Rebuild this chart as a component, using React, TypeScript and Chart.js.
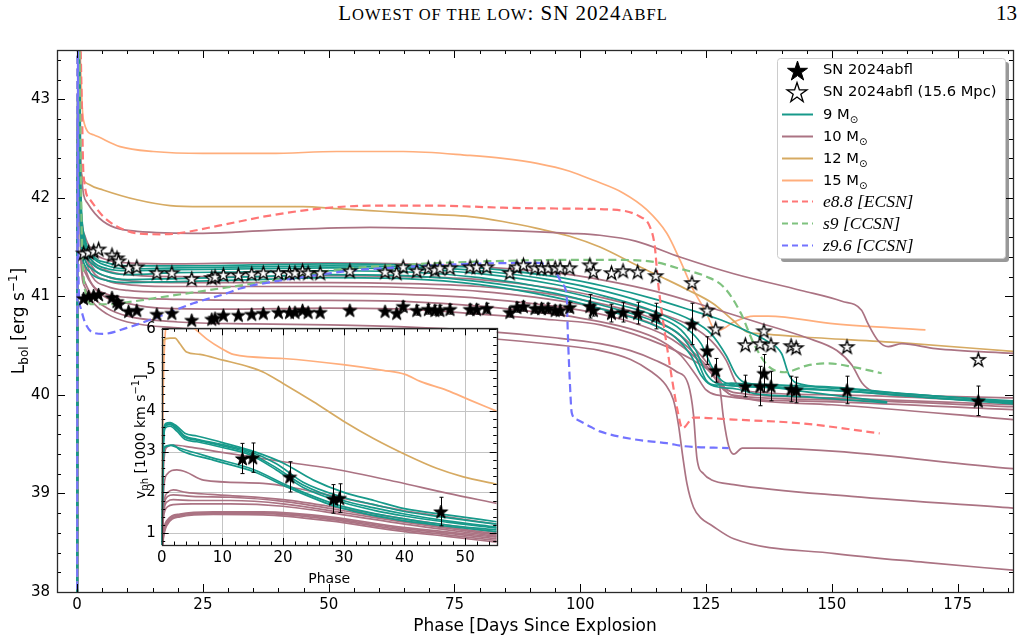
import React, { useEffect, useRef } from "react";
import { Chart, registerables } from "chart.js";
Chart.register(...registerables);

type Pt = [number, number];

// ---------------- observations ----------------
const OBS_PHASE = [1.29, 2.28, 3.28, 4.27, 6.93, 7.92, 8.24, 10.23, 11.86, 15.84, 18.82, 22.78, 26.76, 27.41, 29.06, 32.04, 34.7, 37.0, 40.0, 42.2, 43.3, 44.8, 45.9, 48.3, 54.2, 61.2, 63.5, 64.8, 67.5, 69.8, 71.1, 72.1, 74.1, 78.1, 79.4, 81.4, 86.0, 87.4, 88.7, 91.0, 92.3, 93.6, 95.0, 96.0, 97.9, 101.9, 102.6, 106.2, 108.5, 111.4, 115.0, 122.2, 125.2, 126.9, 132.8, 135.7, 136.5, 137.9, 141.9, 142.9, 153.0, 179.1];
const OBS_LOGL = [40.98, 41.0, 41.01, 41.02, 40.99, 40.95, 40.92, 40.85, 40.86, 40.82, 40.83, 40.76, 40.77, 40.78, 40.81, 40.81, 40.82, 40.83, 40.84, 40.84, 40.84, 40.86, 40.84, 40.84, 40.86, 40.85, 40.83, 40.9, 40.86, 40.87, 40.86, 40.86, 40.87, 40.87, 40.87, 40.88, 40.84, 40.89, 40.9, 40.88, 40.88, 40.88, 40.86, 40.86, 40.89, 40.9, 40.86, 40.83, 40.84, 40.83, 40.8, 40.72, 40.45, 40.25, 40.09, 40.09, 40.22, 40.09, 40.06, 40.05, 40.05, 39.94];
const OBS_LOGL_ERR = [0.02, 0.02, 0.02, 0.02, 0.02, 0.02, 0.02, 0.02, 0.02, 0.02, 0.02, 0.02, 0.02, 0.02, 0.02, 0.02, 0.02, 0.02, 0.02, 0.02, 0.02, 0.02, 0.02, 0.02, 0.02, 0.02, 0.02, 0.05, 0.05, 0.05, 0.05, 0.05, 0.05, 0.05, 0.05, 0.05, 0.05, 0.05, 0.05, 0.05, 0.05, 0.05, 0.05, 0.05, 0.05, 0.12, 0.06, 0.09, 0.1, 0.11, 0.13, 0.21, 0.14, 0.12, 0.11, 0.2, 0.19, 0.15, 0.13, 0.13, 0.14, 0.15];
const OBS_LOGL_15MPC = [41.44, 41.45, 41.46, 41.48, 41.42, 41.39, 41.36, 41.29, 41.3, 41.24, 41.24, 41.18, 41.19, 41.2, 41.22, 41.22, 41.23, 41.24, 41.24, 41.24, 41.24, 41.26, 41.24, 41.24, 41.26, 41.25, 41.24, 41.3, 41.26, 41.29, 41.27, 41.29, 41.29, 41.3, 41.3, 41.3, 41.24, 41.3, 41.32, 41.29, 41.29, 41.29, 41.29, 41.29, 41.29, 41.32, 41.25, 41.24, 41.26, 41.25, 41.21, 41.14, 40.86, 40.67, 40.51, 40.52, 40.65, 40.51, 40.5, 40.48, 40.49, 40.36];

const VPH_PHASE = [13.3, 15.0, 21.1, 28.3, 29.3, 46.0];
const VPH = [2.83, 2.85, 2.38, 1.84, 1.86, 1.53];
const VPH_ERR = [0.37, 0.36, 0.37, 0.35, 0.35, 0.35];

// ---------------- model light curves (log L) ----------------
const LC_9MSUN: Pt[][] = [
  [[0, 36], [0.15, 44.5], [0.7, 42.1], [1.5, 41.6], [3, 41.42], [6, 41.34], [10, 41.31], [20, 41.31], [35, 41.32], [50, 41.33], [65, 41.32], [80, 41.29], [95, 41.2], [105, 41.1], [115, 40.97], [122, 40.86], [128, 40.76], [133, 40.65], [137, 40.55], [140, 40.42], [141.5, 40.2], [143, 40.12], [150, 40.08], [165, 40.01], [186, 39.93]],
  [[0, 36], [0.15, 44.5], [0.7, 42.0], [1.5, 41.55], [3, 41.4], [6, 41.31], [10, 41.28], [20, 41.29], [35, 41.3], [50, 41.31], [65, 41.3], [80, 41.26], [95, 41.16], [105, 41.05], [115, 40.9], [122, 40.76], [126, 40.62], [129, 40.4], [131, 40.2], [133, 40.12], [140, 40.1], [155, 40.05], [170, 39.99], [186, 39.94]],
  [[0, 36], [0.15, 44.5], [0.7, 41.95], [1.5, 41.5], [3, 41.36], [6, 41.28], [10, 41.26], [20, 41.27], [35, 41.28], [50, 41.29], [65, 41.28], [80, 41.23], [95, 41.12], [105, 41.0], [115, 40.84], [121, 40.68], [124, 40.52], [126, 40.3], [128, 40.15], [131, 40.1], [140, 40.08], [155, 40.03], [170, 39.97], [186, 39.92]],
  [[0, 36], [0.15, 44.5], [0.7, 41.9], [1.5, 41.45], [3, 41.33], [6, 41.25], [10, 41.22], [20, 41.24], [35, 41.25], [50, 41.26], [65, 41.25], [80, 41.19], [95, 41.07], [105, 40.95], [115, 40.8], [120, 40.66], [123, 40.45], [125, 40.22], [127, 40.12], [131, 40.09], [140, 40.07], [155, 40.03], [170, 39.97], [186, 39.91]],
  [[0, 36], [0.15, 44.5], [0.7, 41.8], [1.5, 41.38], [3, 41.28], [6, 41.2], [10, 41.17], [20, 41.18], [35, 41.2], [50, 41.22], [65, 41.21], [80, 41.15], [95, 41.03], [105, 40.9], [115, 40.74], [120, 40.6], [123, 40.38], [125, 40.15], [127, 40.1], [130, 40.12], [135, 40.1], [145, 40.03], [161, 39.93]],
  [[0, 36], [0.15, 44.5], [0.7, 41.7], [1.5, 41.32], [3, 41.22], [6, 41.16], [10, 41.14], [20, 41.15], [35, 41.17], [50, 41.19], [65, 41.18], [80, 41.12], [95, 40.99], [105, 40.86], [115, 40.7], [119, 40.58], [122, 40.4], [124, 40.2], [126, 40.1], [131, 40.06], [135, 40.01], [145, 39.98], [161, 39.92]],
];

const LC_10MSUN: Pt[][] = [
  [[0, 36], [0.15, 44.5], [0.8, 42.3], [2, 41.95], [5.2, 41.76], [11.9, 41.66], [25, 41.64], [38.3, 41.67], [58.2, 41.7], [71.5, 41.69], [84.6, 41.67], [97.9, 41.64], [103.9, 41.62], [111, 41.56], [119.8, 41.4], [130.5, 41.23], [143.9, 41.06], [152, 40.95], [155.9, 40.86], [157.2, 40.72], [159.2, 40.55], [161.2, 40.49], [163.9, 40.52], [170.6, 40.47], [186.3, 40.42]],
  [[0, 36], [0.15, 44.5], [0.7, 42.0], [1.5, 41.62], [3, 41.46], [6, 41.37], [10, 41.34], [20, 41.33], [35, 41.34], [50, 41.34], [65, 41.33], [80, 41.3], [95, 41.24], [105, 41.16], [115, 41.05], [125, 40.9], [135, 40.74], [145, 40.58], [151, 40.45], [154, 40.3], [156, 40.12], [158, 40.04], [165, 40.0], [186, 39.97]],
  [[0, 36], [0.15, 44.5], [0.7, 41.95], [1.5, 41.55], [3, 41.35], [6, 41.26], [10, 41.22], [20, 41.2], [35, 41.2], [50, 41.21], [65, 41.2], [80, 41.17], [95, 41.08], [105, 40.98], [115, 40.84], [122, 40.7], [126, 40.55], [129, 40.35], [131, 40.12], [133, 40.04], [150, 40.0], [186, 39.93]],
  [[0, 36], [0.15, 44.5], [0.7, 41.9], [1.5, 41.5], [3, 41.3], [6, 41.2], [10, 41.16], [20, 41.14], [35, 41.14], [50, 41.14], [65, 41.13], [80, 41.1], [90, 41.05], [100, 40.97], [110, 40.85], [115, 40.76], [120, 40.6], [124, 40.4], [127, 40.2], [129, 40.06], [131, 40.02], [150, 39.97], [186, 39.9]],
  [[0, 36], [0.15, 44.5], [0.7, 41.85], [1.5, 41.45], [3, 41.26], [6, 41.16], [10, 41.12], [20, 41.1], [35, 41.1], [50, 41.1], [65, 41.09], [80, 41.05], [100, 40.92], [110, 40.8], [116, 40.68], [121, 40.5], [125, 40.3], [128, 40.1], [130, 40.0], [150, 39.95], [186, 39.88]],
  [[0, 36], [0.15, 44.5], [0.7, 41.8], [1.5, 41.4], [3, 41.2], [6, 41.1], [10, 41.06], [20, 41.04], [35, 41.03], [50, 41.03], [65, 41.02], [80, 40.98], [100, 40.86], [110, 40.74], [117, 40.6], [122, 40.42], [126, 40.22], [128.5, 40.05], [130.5, 39.99], [150, 39.9], [186, 39.75]],
  [[0, 36], [0.15, 44.5], [0.7, 41.7], [1.5, 41.3], [3, 41.12], [6, 41.02], [10, 40.99], [20, 40.97], [35, 40.96], [50, 40.96], [65, 40.95], [80, 40.9], [100, 40.78], [110, 40.67], [116, 40.55], [120, 40.4], [123, 40.2], [125, 40.05], [127, 40.0], [150, 39.93], [186, 39.85]],
  [[0, 36], [0.15, 44.5], [0.7, 41.6], [1.5, 41.25], [3.2, 41.1], [6, 40.98], [9.9, 40.93], [16.5, 40.88], [30, 40.87], [50, 40.88], [65, 40.87], [80, 40.82], [95, 40.76], [104, 40.71], [117.2, 40.49], [122.5, 40.35], [125.7, 40.25], [127.5, 40.15], [128.5, 39.75], [129.5, 39.48], [130.5, 39.4], [132.2, 39.46], [135.5, 39.46], [186.3, 39.25]],
  [[0, 36], [0.15, 44.5], [0.7, 41.5], [1.5, 41.15], [3, 41.0], [6, 40.88], [10, 40.8], [20, 40.74], [35, 40.72], [50, 40.71], [65, 40.69], [80, 40.65], [95, 40.58], [104, 40.52], [110, 40.45], [115, 40.35], [119, 40.24], [121.5, 40.1], [122.5, 39.8], [123.2, 39.35], [124.5, 39.2], [126, 39.14], [130.5, 39.09], [153.9, 38.97], [186.3, 38.85]],
  [[0, 36], [0.15, 44.5], [0.7, 41.45], [1.5, 41.1], [3, 40.95], [6, 40.82], [10, 40.74], [20, 40.68], [35, 40.65], [50, 40.64], [65, 40.63], [80, 40.58], [95, 40.51], [104, 40.45], [110, 40.36], [114, 40.24], [117, 40.1], [118.5, 39.95], [119.5, 39.7], [120.3, 39.4], [121.2, 39.1], [122.5, 38.86], [124, 38.75], [126, 38.68], [130.5, 38.54], [150.6, 38.39], [168.5, 38.3], [186.3, 38.22]],
];

const LC_12MSUN: Pt[] = [[0, 36], [0.2, 44.5], [0.4, 42.6], [0.8, 42.25], [2.58, 42.13], [5.16, 42.08], [11.9, 41.98], [18.5, 41.92], [25, 41.91], [31.8, 41.91], [44.9, 41.91], [51.6, 41.89], [58.2, 41.87], [64.8, 41.85], [71.5, 41.83], [78.1, 41.81], [84.6, 41.76], [91.4, 41.69], [97.9, 41.61], [103.9, 41.5], [111.8, 41.3], [117.2, 41.17], [121.2, 41.07], [126.3, 40.93], [130.3, 40.76], [133.1, 40.64], [136.3, 40.62], [143.6, 40.59], [163.5, 40.53], [186.3, 40.44]];
const LC_15MSUN: Pt[] = [[0, 36], [0.2, 44.5], [0.6, 43.5], [1.25, 42.79], [3.24, 42.64], [8.54, 42.52], [15.1, 42.47], [25, 42.45], [38.3, 42.45], [51.6, 42.47], [64.8, 42.47], [78.1, 42.43], [84.6, 42.4], [91.4, 42.35], [97.9, 42.27], [102.5, 42.18], [108.5, 42.05], [113.2, 41.88], [117.2, 41.64], [119.8, 41.37], [122.4, 41.07], [125.1, 40.83], [126.3, 40.69], [127.7, 40.66], [130.5, 40.74], [134.5, 40.8], [137.3, 40.8], [150.6, 40.72], [168.6, 40.66]];
const LC_E88: Pt[] = [[0, 36], [0.15, 44.5], [0.95, 42.92], [1.25, 42.25], [2.58, 41.98], [5.2, 41.81], [7.9, 41.71], [11.9, 41.64], [16.5, 41.63], [20, 41.64], [28.4, 41.72], [38.3, 41.82], [48.2, 41.89], [58.2, 41.92], [71.5, 41.92], [84.6, 41.9], [97.9, 41.89], [106.5, 41.88], [111.8, 41.81], [113.8, 41.71], [114.8, 41.51], [115.4, 41.17], [116.2, 40.84], [117.2, 40.5], [118.2, 40.17], [119.3, 39.85], [120.3, 39.66], [122.5, 39.77], [130.5, 39.75], [144.2, 39.71], [159.5, 39.61]];
const LC_S9: Pt[] = [[0, 36], [0.15, 44.5], [0.9, 41.7], [1.25, 41.23], [1.9, 41.0], [2.9, 40.92], [6.6, 40.92], [9.9, 40.94], [16.5, 40.99], [23.1, 41.04], [29.7, 41.09], [36.3, 41.14], [51.6, 41.27], [64.8, 41.32], [78.1, 41.35], [97.9, 41.37], [106.5, 41.37], [114.6, 41.35], [119.8, 41.28], [125.1, 41.2], [128.6, 41.09], [131.9, 40.83], [134.5, 40.52], [137.2, 40.3], [140.6, 40.23], [145.2, 40.3], [149.2, 40.32], [154.5, 40.28], [159.9, 40.22]];
const LC_Z96: Pt[] = [[0, 36], [0.1, 44.5], [0.26, 41.24], [0.6, 40.9], [1.6, 40.73], [3.24, 40.63], [5.2, 40.62], [9.9, 40.68], [16.5, 40.8], [23.1, 40.93], [29.7, 41.03], [32.4, 41.08], [39, 41.15], [45.6, 41.2], [54.2, 41.26], [62.2, 41.29], [78.1, 41.33], [91.4, 41.34], [94, 41.3], [95.4, 41.22], [96.5, 41.12], [97.3, 41.0], [97.5, 40.66], [97.9, 40.16], [98.3, 39.82], [99.3, 39.75], [101.9, 39.68], [103.9, 39.63], [110.6, 39.55], [117.2, 39.51], [120.6, 39.48], [129.5, 39.46]];

// ---------------- model photospheric velocities ----------------
const VEL_9MSUN: Pt[][] = [
  [[0, 0.5], [0.2, 3.0], [0.6, 3.68], [1.4, 3.71], [2.5, 3.62], [3.8, 3.45], [5.8, 3.38], [10, 3.22], [15.6, 2.98], [20, 2.72], [25, 2.3], [30, 2.0], [35, 1.8], [40, 1.6], [47, 1.45], [55.2, 1.28]],
  [[0, 0.5], [0.2, 3.0], [0.6, 3.65], [1.4, 3.68], [2.5, 3.58], [3.8, 3.38], [5.8, 3.3], [10, 3.17], [14.5, 3.0], [18.9, 2.7], [23.3, 2.25], [29.9, 1.88], [35, 1.7], [40, 1.53], [47, 1.38], [55.2, 1.22]],
  [[0, 0.5], [0.2, 2.9], [0.6, 3.62], [1.4, 3.66], [2.5, 3.55], [3.8, 3.35], [5.8, 3.28], [10, 3.14], [14.5, 2.96], [18.9, 2.6], [23.3, 2.18], [29.9, 1.8], [35, 1.62], [40, 1.47], [47, 1.3], [55.2, 1.15]],
  [[0, 0.5], [0.2, 2.9], [0.6, 3.58], [1.4, 3.62], [2.5, 3.5], [3.8, 3.3], [5.8, 3.24], [10, 3.1], [14.5, 2.92], [18.9, 2.55], [23.3, 2.12], [29.9, 1.75], [35, 1.56], [40, 1.42], [47, 1.27], [55.2, 1.12]],
  [[0, 0.5], [0.2, 2.6], [0.5, 3.12], [1.9, 3.16], [3, 3.04], [8.5, 2.79], [15.1, 2.51], [21.1, 2.1], [28.8, 1.65], [38.7, 1.33], [47, 1.17], [55.2, 1.04]],
  [[0, 0.5], [0.2, 2.6], [0.5, 3.1], [1.5, 3.15], [2.2, 3.12], [3, 3.08], [8.5, 2.84], [15.1, 2.56], [21.1, 2.14], [28.8, 1.7], [38.7, 1.38], [47, 1.2], [55.2, 1.08]],
];
const VEL_10MSUN: Pt[][] = [
  [[0, 0.5], [0.3, 2.6], [0.8, 3.1], [1.9, 3.16], [5, 3.1], [9.1, 3.0], [20, 2.75], [27.7, 2.59], [38.7, 2.26], [47, 1.98], [55.2, 1.73]],
  [[0, 0.5], [0.3, 2.0], [0.8, 2.43], [2.5, 2.55], [4, 2.5], [6.9, 2.3], [16.7, 2.22], [22.2, 2.1], [30, 1.85], [40, 1.55], [47, 1.4], [55.2, 1.22]],
  [[0, 0.5], [0.3, 1.7], [1, 2.0], [1.9, 2.06], [4, 2.0], [8, 1.95], [11.3, 1.92], [20, 1.82], [30, 1.6], [40, 1.35], [47, 1.2], [55.2, 1.02]],
  [[0, 0.5], [0.3, 1.6], [1, 1.9], [1.9, 1.94], [5, 1.9], [11.3, 1.88], [20, 1.78], [30, 1.55], [40, 1.3], [47, 1.15], [55.2, 0.98]],
  [[0, 0.5], [0.3, 1.5], [1, 1.78], [1.9, 1.82], [5, 1.8], [11.3, 1.8], [20, 1.72], [30, 1.5], [40, 1.27], [47, 1.12], [55.2, 0.95]],
  [[0, 0.5], [0.3, 1.4], [1, 1.65], [1.9, 1.7], [5, 1.72], [11.3, 1.72], [20, 1.66], [30, 1.45], [40, 1.22], [47, 1.08], [55.2, 0.92]],
  [[0, 0.5], [0.3, 1.05], [0.8, 1.3], [3, 1.47], [8.5, 1.52], [16.7, 1.52], [27.7, 1.4], [38.7, 1.16], [47, 1.03], [55.2, 0.9]],
  [[0, 0.5], [0.3, 1.0], [0.8, 1.27], [3, 1.45], [8.5, 1.5], [16.7, 1.5], [27.7, 1.37], [38.7, 1.13], [47, 1.0], [55.2, 0.86]],
  [[0, 0.5], [0.3, 0.95], [0.8, 1.22], [3, 1.42], [8.5, 1.48], [16.7, 1.48], [27.7, 1.34], [38.7, 1.1], [47, 0.96], [55.2, 0.82]],
  [[0, 0.5], [0.3, 0.9], [0.8, 1.18], [3, 1.4], [8.5, 1.46], [16.7, 1.45], [27.7, 1.3], [38.7, 1.06], [47, 0.92], [55.2, 0.78]],
];
const VEL_12MSUN: Pt[] = [[0, 0.5], [0.1, 4.5], [0.27, 5.73], [1.37, 5.78], [2.2, 5.78], [3.0, 5.64], [4.1, 5.44], [6.3, 5.38], [10.1, 5.24], [14.5, 5.07], [16.7, 4.95], [20, 4.67], [25, 4.22], [29.9, 3.75], [34.9, 3.32], [40.4, 2.91], [45.3, 2.59], [49.7, 2.38], [55.2, 2.2]];
const VEL_15MSUN: Pt[] = [[0, 0.5], [0.2, 4.0], [0.5, 5.7], [1.0, 6.2], [2.5, 6.35], [4.5, 6.1], [5.5, 6.0], [7.5, 5.75], [9.9, 5.52], [11.8, 5.38], [20, 5.28], [29.9, 5.13], [36.5, 4.99], [40.1, 4.89], [42.6, 4.72], [47, 4.5], [50.8, 4.26], [55.2, 3.99]];

// ---------------- axes ----------------
const MAIN_X_RANGE = [-4, 186];
const MAIN_Y_RANGE = [38, 43.5];
const MAIN_X_TICKS = [0, 25, 50, 75, 100, 125, 150, 175];
const MAIN_Y_TICKS = [38, 39, 40, 41, 42, 43];
const INSET_X_RANGE = [0, 55.2];
const INSET_Y_RANGE = [0.71, 6.02];
const INSET_X_TICKS = [0, 10, 20, 30, 40, 50];
const INSET_Y_TICKS = [1, 2, 3, 4, 5, 6];

const C_9 = "#17998a";
const C_10 = "#ab7383";
const C_12 = "#d6aa62";
const C_15 = "#ffae7c";
const C_E88 = "#ff7676";
const C_S9 = "#7fc27f";
const C_Z96 = "#7373ff";

const FONT = "'DejaVu Sans', sans-serif";

const toXY = (a: Pt[]) => a.map(([x, y]) => ({ x, y }));

function makeStar(r: number, fill: string, stroke: string, lw: number): HTMLCanvasElement {
  const size = Math.ceil(2 * r + lw * 2 + 2);
  const c = document.createElement("canvas");
  c.width = size;
  c.height = size;
  const ctx = c.getContext("2d")!;
  const cx = size / 2;
  const cy = size / 2 + r * 0.1;
  ctx.beginPath();
  for (let i = 0; i < 10; i++) {
    const rad = i % 2 === 0 ? r : r * 0.382;
    const a = -Math.PI / 2 + (i * Math.PI) / 5;
    const px = cx + rad * Math.cos(a);
    const py = cy + rad * Math.sin(a);
    if (i === 0) ctx.moveTo(px, py);
    else ctx.lineTo(px, py);
  }
  ctx.closePath();
  ctx.fillStyle = fill;
  ctx.fill();
  ctx.lineWidth = lw;
  ctx.lineJoin = "miter";
  ctx.strokeStyle = stroke;
  ctx.stroke();
  return c;
}

type RichPart = { t: string; size: number; dy: number; style?: string; family?: string };

function drawRich(ctx: CanvasRenderingContext2D, parts: RichPart[], x: number, y: number, rotate: boolean, align: "center" | "left") {
  ctx.save();
  ctx.translate(x, y);
  if (rotate) ctx.rotate(-Math.PI / 2);
  ctx.textBaseline = "alphabetic";
  ctx.textAlign = "left";
  ctx.fillStyle = "#000";
  const fontOf = (p: RichPart) => `${p.style || ""} ${p.size}px ${p.family || FONT}`;
  let total = 0;
  for (const p of parts) {
    ctx.font = fontOf(p);
    total += ctx.measureText(p.t).width;
  }
  let cx = align === "center" ? -total / 2 : 0;
  for (const p of parts) {
    ctx.font = fontOf(p);
    ctx.fillText(p.t, cx, p.dy);
    cx += ctx.measureText(p.t).width;
  }
  ctx.restore();
}

interface AxesCfg {
  xRange: number[];
  yRange: number[];
  xTicks: number[];
  yTicks: number[];
  xMinor: number;
  yMinor: number;
  majorLen: number;
  minorLen: number;
  fontSize: number;
  xLabelGap: number;
  yLabelGap: number;
  grid: boolean;
  whiteBg: boolean;
}

function axesPlugin(id: string, cfg: AxesCfg) {
  const isMajor = (v: number, ticks: number[]) => ticks.some((t) => Math.abs(t - v) < 1e-6);
  return {
    id,
    beforeDraw(chart: any) {
      if (!cfg.whiteBg) return;
      const { ctx, chartArea: a } = chart;
      ctx.save();
      ctx.fillStyle = "#fff";
      ctx.fillRect(a.left, a.top, a.right - a.left, a.bottom - a.top);
      ctx.restore();
    },
    beforeDatasetsDraw(chart: any) {
      if (!cfg.grid) return;
      const { ctx, chartArea: a, scales } = chart;
      ctx.save();
      ctx.strokeStyle = "#c4c4c4";
      ctx.lineWidth = 1;
      for (const v of cfg.xTicks) {
        const px = Math.round(scales.x.getPixelForValue(v)) + 0.5;
        ctx.beginPath();
        ctx.moveTo(px, a.top);
        ctx.lineTo(px, a.bottom);
        ctx.stroke();
      }
      for (const v of cfg.yTicks) {
        const py = Math.round(scales.y.getPixelForValue(v)) + 0.5;
        ctx.beginPath();
        ctx.moveTo(a.left, py);
        ctx.lineTo(a.right, py);
        ctx.stroke();
      }
      ctx.restore();
    },
    afterDatasetsDraw(chart: any) {
      const { ctx, chartArea: a, scales } = chart;
      ctx.save();
      ctx.strokeStyle = "#000";
      ctx.lineWidth = 1;
      const x0 = Math.ceil(cfg.xRange[0] / cfg.xMinor - 1e-9);
      const x1 = Math.floor(cfg.xRange[1] / cfg.xMinor + 1e-9);
      for (let k = x0; k <= x1; k++) {
        const v = k * cfg.xMinor;
        const len = isMajor(v, cfg.xTicks) ? cfg.majorLen : cfg.minorLen;
        const px = Math.round(scales.x.getPixelForValue(v)) + 0.5;
        ctx.beginPath();
        ctx.moveTo(px, a.bottom);
        ctx.lineTo(px, a.bottom - len);
        ctx.moveTo(px, a.top);
        ctx.lineTo(px, a.top + len);
        ctx.stroke();
      }
      const y0 = Math.ceil(cfg.yRange[0] / cfg.yMinor - 1e-9);
      const y1 = Math.floor(cfg.yRange[1] / cfg.yMinor + 1e-9);
      for (let k = y0; k <= y1; k++) {
        const v = k * cfg.yMinor;
        const len = isMajor(v, cfg.yTicks) ? cfg.majorLen : cfg.minorLen;
        const py = Math.round(scales.y.getPixelForValue(v)) + 0.5;
        ctx.beginPath();
        ctx.moveTo(a.left, py);
        ctx.lineTo(a.left + len, py);
        ctx.moveTo(a.right, py);
        ctx.lineTo(a.right - len, py);
        ctx.stroke();
      }
      ctx.strokeStyle = "#2a2a2a";
      ctx.lineWidth = 1.3;
      ctx.strokeRect(Math.round(a.left) + 0.5, Math.round(a.top) + 0.5, Math.round(a.right - a.left), Math.round(a.bottom - a.top));
      ctx.fillStyle = "#000";
      ctx.font = `${cfg.fontSize}px ${FONT}`;
      ctx.textAlign = "center";
      ctx.textBaseline = "top";
      for (const v of cfg.xTicks) {
        ctx.fillText(String(v), scales.x.getPixelForValue(v), a.bottom + cfg.xLabelGap);
      }
      ctx.textAlign = "right";
      ctx.textBaseline = "middle";
      for (const v of cfg.yTicks) {
        ctx.fillText(String(v), a.left - cfg.yLabelGap, scales.y.getPixelForValue(v));
      }
      ctx.restore();
    },
  };
}

const errorBarPlugin = {
  id: "errorBars",
  beforeDatasetDraw(chart: any, args: any) {
    const ds = chart.data.datasets[args.index];
    if (!ds.errs) return;
    const { ctx, scales } = chart;
    ctx.save();
    ctx.strokeStyle = "#000";
    ctx.lineWidth = 1;
    ds.data.forEach((p: any, i: number) => {
      const e = ds.errs[i];
      const px = Math.round(scales.x.getPixelForValue(p.x)) + 0.5;
      const yt = scales.y.getPixelForValue(p.y + e);
      const yb = scales.y.getPixelForValue(p.y - e);
      ctx.beginPath();
      ctx.moveTo(px, yt);
      ctx.lineTo(px, yb);
      ctx.moveTo(px - 2, yt);
      ctx.lineTo(px + 2, yt);
      ctx.moveTo(px - 2, yb);
      ctx.lineTo(px + 2, yb);
      ctx.stroke();
    });
    ctx.restore();
  },
};

export default function App() {
  const mainRef = useRef<HTMLCanvasElement>(null);
  const insetRef = useRef<HTMLCanvasElement>(null);

  useEffect(() => {
    const starFilled = makeStar(7.2, "#000", "#000", 1);
    const starOpen = makeStar(7.2, "#fff", "#000", 1.3);
    const starFilledBig = makeStar(10.5, "#000", "#000", 1);
    const starOpenBig = makeStar(10.5, "#fff", "#000", 1.3);

    const lineDs = (pts: Pt[], color: string, order: number, dashed = false) => ({
      type: "line" as const,
      data: toXY(pts),
      borderColor: color,
      borderWidth: dashed ? 2.2 : 1.7,
      borderDash: dashed ? [8, 4.5] : [],
      pointRadius: 0,
      fill: false,
      cubicInterpolationMode: "monotone" as const,
      order,
    });

    const mainDatasets: any[] = [
      {
        type: "scatter",
        data: OBS_PHASE.map((x, i) => ({ x, y: OBS_LOGL[i] })),
        errs: OBS_LOGL_ERR,
        pointStyle: starFilled,
        pointRadius: 7,
        showLine: false,
        order: 0,
      },
      {
        type: "scatter",
        data: OBS_PHASE.map((x, i) => ({ x, y: OBS_LOGL_15MPC[i] })),
        pointStyle: starOpen,
        pointRadius: 7,
        showLine: false,
        order: 0,
      },
      lineDs(LC_Z96, C_Z96, 1, true),
      lineDs(LC_S9, C_S9, 2, true),
      lineDs(LC_E88, C_E88, 3, true),
      ...LC_9MSUN.map((c) => lineDs(c, C_9, 4)),
      ...LC_10MSUN.map((c) => lineDs(c, C_10, 5)),
      lineDs(LC_12MSUN, C_12, 6),
      lineDs(LC_15MSUN, C_15, 7),
    ];

    const legendPlugin = {
      id: "legendBox",
      afterDraw(chart: any) {
        const ctx: CanvasRenderingContext2D = chart.ctx;
        const bx = 777, by = 58, bw = 228, bh = 200;
        ctx.save();
        ctx.fillStyle = "rgba(0,0,0,0.4)";
        ctx.beginPath();
        (ctx as any).roundRect(bx + 4, by + 4, bw, bh, 3);
        ctx.fill();
        ctx.fillStyle = "#fff";
        ctx.beginPath();
        (ctx as any).roundRect(bx + 0.5, by + 0.5, bw, bh, 3);
        ctx.fill();
        ctx.strokeStyle = "#cccccc";
        ctx.lineWidth = 1;
        ctx.stroke();
        const rowY = (i: number) => 70 + i * 21.9;
        const hx0 = 782, hx1 = 813, tx = 823;
        ctx.drawImage(starFilledBig, Math.round(797 - starFilledBig.width / 2), Math.round(rowY(0) - starFilledBig.height / 2));
        ctx.drawImage(starOpenBig, Math.round(797 - starOpenBig.width / 2), Math.round(rowY(1) - starOpenBig.height / 2));
        const lines: [string, boolean][] = [[C_9, false], [C_10, false], [C_12, false], [C_15, false], [C_E88, true], [C_S9, true], [C_Z96, true]];
        lines.forEach(([c, d], k) => {
          const y = Math.round(rowY(k + 2)) + 0.5;
          ctx.strokeStyle = c;
          ctx.lineWidth = d ? 2.2 : 2;
          ctx.setLineDash(d ? [6, 4] : []);
          ctx.beginPath();
          ctx.moveTo(hx0, y);
          ctx.lineTo(hx1, y);
          ctx.stroke();
        });
        ctx.setLineDash([]);
        ctx.fillStyle = "#000";
        ctx.textAlign = "left";
        ctx.textBaseline = "middle";
        ctx.font = `14.7px ${FONT}`;
        ctx.fillText("SN 2024abfl", tx, rowY(0));
        ctx.fillText("SN 2024abfl (15.6 Mpc)", tx, rowY(1));
        const masses = ["9", "10", "12", "15"];
        masses.forEach((m, k) => {
          const y = rowY(k + 2) + 5;
          drawRich(ctx, [
            { t: `${m} M`, size: 14.7, dy: 0 },
            { t: "\u2299", size: 10, dy: 4 },
          ], tx, y, false, "left");
        });
        const models = ["e8.8 [ECSN]", "s9 [CCSN]", "z9.6 [CCSN]"];
        models.forEach((t, k) => {
          drawRich(ctx, [{ t, size: 17.5, dy: 0, style: "italic", family: "'Liberation Serif', serif" }], tx, rowY(k + 6) + 6, false, "left");
        });
        ctx.restore();
      },
    };

    const mainTitles = {
      id: "mainTitles",
      afterDraw(chart: any) {
        const ctx = chart.ctx;
        const a = chart.chartArea;
        drawRich(ctx, [
          { t: "L", size: 17, dy: 0 },
          { t: "bol", size: 12, dy: 4 },
          { t: " [erg s", size: 17, dy: 0 },
          { t: "\u22121", size: 12, dy: -7 },
          { t: "]", size: 17, dy: 0 },
        ], 24, (a.top + a.bottom) / 2, true, "center");
        drawRich(ctx, [{ t: "Phase [Days Since Explosion", size: 17, dy: 0 }], (a.left + a.right) / 2, 631, false, "center");
      },
    };

    const main = new Chart(mainRef.current!, {
      type: "line",
      data: { datasets: mainDatasets },
      options: {
        animation: false,
        responsive: false,
        devicePixelRatio: 1,
        events: [],
        layout: { padding: { left: 57, top: 50, right: 12, bottom: 49 } },
        scales: {
          x: { type: "linear", min: MAIN_X_RANGE[0], max: MAIN_X_RANGE[1], display: false },
          y: { type: "linear", min: MAIN_Y_RANGE[0], max: MAIN_Y_RANGE[1], display: false },
        },
        plugins: { legend: { display: false }, tooltip: { enabled: false }, title: { display: false } },
      },
      plugins: [
        errorBarPlugin,
        axesPlugin("mainAxes", {
          xRange: MAIN_X_RANGE, yRange: MAIN_Y_RANGE, xTicks: MAIN_X_TICKS, yTicks: MAIN_Y_TICKS,
          xMinor: 5, yMinor: 0.2, majorLen: 8, minorLen: 4, fontSize: 15, xLabelGap: 6, yLabelGap: 7,
          grid: false, whiteBg: false,
        }),
        mainTitles,
        legendPlugin,
      ],
    } as any);

    const insetDatasets: any[] = [
      {
        type: "scatter",
        data: VPH_PHASE.map((x, i) => ({ x, y: VPH[i] })),
        errs: VPH_ERR,
        pointStyle: starFilled,
        pointRadius: 7,
        showLine: false,
        order: 0,
      },
      ...VEL_9MSUN.map((c) => lineDs(c, C_9, 4)),
      ...VEL_10MSUN.map((c) => lineDs(c, C_10, 5)),
      lineDs(VEL_12MSUN, C_12, 6),
      lineDs(VEL_15MSUN, C_15, 7),
    ];

    const insetTitles = {
      id: "insetTitles",
      afterDraw(chart: any) {
        const ctx = chart.ctx;
        const a = chart.chartArea;
        drawRich(ctx, [
          { t: "v", size: 14, dy: 0 },
          { t: "ph", size: 10, dy: 3 },
          { t: " [1000 km s", size: 14, dy: 0 },
          { t: "\u22121", size: 10, dy: -6 },
          { t: "]", size: 14, dy: 0 },
        ], 145, (a.top + a.bottom) / 2, true, "center");
        drawRich(ctx, [{ t: "Phase", size: 14, dy: 0 }], (a.left + a.right) / 2, 583, false, "center");
      },
    };

    const inset = new Chart(insetRef.current!, {
      type: "line",
      data: { datasets: insetDatasets },
      options: {
        animation: false,
        responsive: false,
        devicePixelRatio: 1,
        events: [],
        layout: { padding: { left: 161.7, top: 328.3, right: 1025 - 496.7, bottom: 641 - 545 } },
        scales: {
          x: { type: "linear", min: INSET_X_RANGE[0], max: INSET_X_RANGE[1], display: false },
          y: { type: "linear", min: INSET_Y_RANGE[0], max: INSET_Y_RANGE[1], display: false },
        },
        plugins: { legend: { display: false }, tooltip: { enabled: false }, title: { display: false } },
      },
      plugins: [
        errorBarPlugin,
        axesPlugin("insetAxes", {
          xRange: INSET_X_RANGE, yRange: INSET_Y_RANGE, xTicks: INSET_X_TICKS, yTicks: INSET_Y_TICKS,
          xMinor: 2, yMinor: 0.2, majorLen: 7, minorLen: 3.5, fontSize: 15, xLabelGap: 6, yLabelGap: 6,
          grid: true, whiteBg: true,
        }),
        insetTitles,
      ],
    } as any);

    return () => {
      main.destroy();
      inset.destroy();
    };
  }, []);

  const capStyle = { fontSize: 21 };
  const scStyle = { fontSize: 16.5 };
  return (
    <div style={{ position: "absolute", left: 0, top: 0, width: 1025, height: 641, background: "#fff", overflow: "hidden" }}>
      <div style={{ position: "absolute", left: 0, top: 2, width: 1006, textAlign: "center", fontFamily: "'Liberation Serif', serif", letterSpacing: "1px", lineHeight: "22px", color: "#000", whiteSpace: "nowrap" }}>
        <span style={capStyle}>L</span>
        <span style={scStyle}>OWEST OF THE LOW</span>
        <span style={capStyle}>: SN 2024</span>
        <span style={scStyle}>ABFL</span>
      </div>
      <div style={{ position: "absolute", right: 8, top: 2, fontFamily: "'Liberation Serif', serif", fontSize: 21, lineHeight: "22px", color: "#000" }}>13</div>
      <canvas ref={mainRef} width={1025} height={641} style={{ position: "absolute", left: 0, top: 0 }} />
      <canvas ref={insetRef} width={1025} height={641} style={{ position: "absolute", left: 0, top: 0 }} />
    </div>
  );
}
